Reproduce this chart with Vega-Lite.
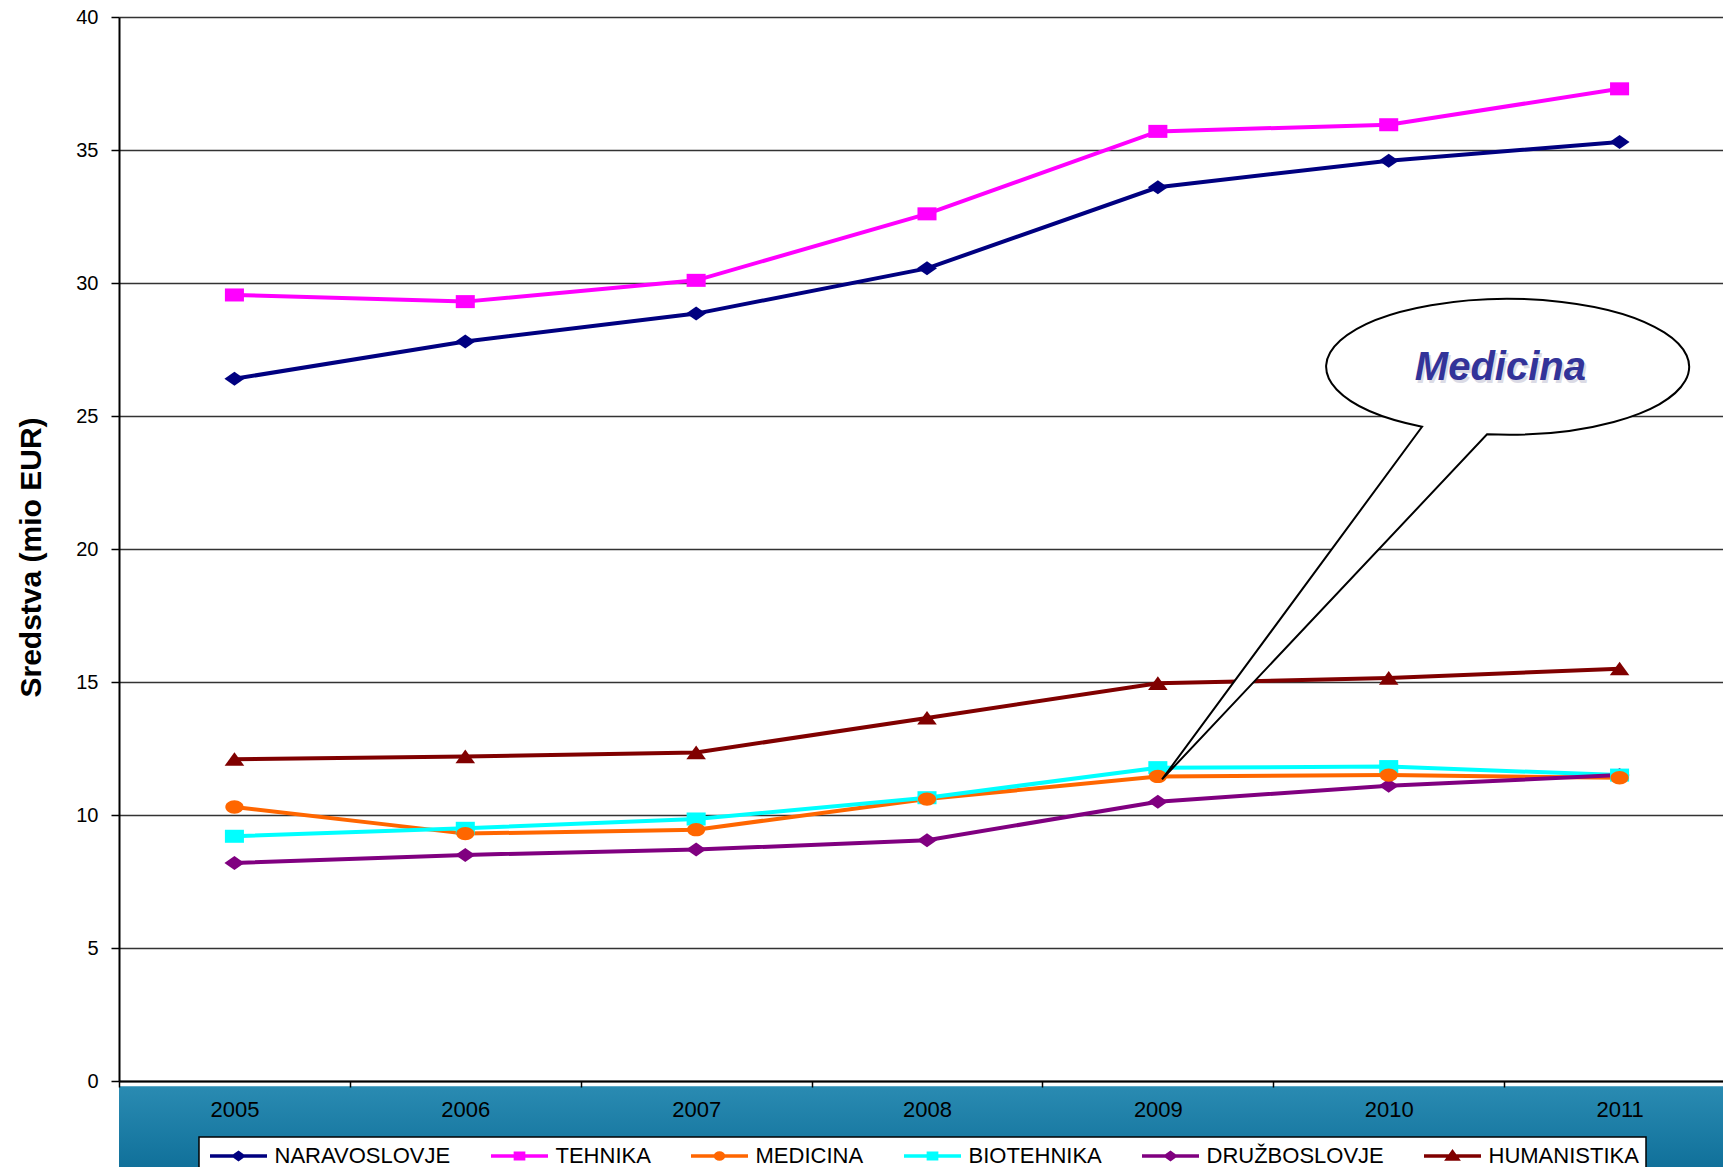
{
  "$schema": "https://vega.github.io/schema/vega-lite/v6.json",
  "width": 1616,
  "height": 1064,
  "autosize": {"type": "none"},
  "padding": {"left": 119, "top": 17, "right": 0, "bottom": 86},
  "background": "white",
  "config": {"view": {"stroke": null}, "font": "Liberation Sans"},
  "data": {
    "values": [
      {"year": "2005", "series": "NARAVOSLOVJE", "value": 26.4},
      {"year": "2006", "series": "NARAVOSLOVJE", "value": 27.8},
      {"year": "2007", "series": "NARAVOSLOVJE", "value": 28.85},
      {"year": "2008", "series": "NARAVOSLOVJE", "value": 30.55},
      {"year": "2009", "series": "NARAVOSLOVJE", "value": 33.6},
      {"year": "2010", "series": "NARAVOSLOVJE", "value": 34.6},
      {"year": "2011", "series": "NARAVOSLOVJE", "value": 35.3},
      {"year": "2005", "series": "TEHNIKA", "value": 29.55},
      {"year": "2006", "series": "TEHNIKA", "value": 29.3},
      {"year": "2007", "series": "TEHNIKA", "value": 30.1},
      {"year": "2008", "series": "TEHNIKA", "value": 32.6},
      {"year": "2009", "series": "TEHNIKA", "value": 35.7},
      {"year": "2010", "series": "TEHNIKA", "value": 35.95},
      {"year": "2011", "series": "TEHNIKA", "value": 37.3},
      {"year": "2005", "series": "MEDICINA", "value": 10.3},
      {"year": "2006", "series": "MEDICINA", "value": 9.3},
      {"year": "2007", "series": "MEDICINA", "value": 9.45},
      {"year": "2008", "series": "MEDICINA", "value": 10.6},
      {"year": "2009", "series": "MEDICINA", "value": 11.45},
      {"year": "2010", "series": "MEDICINA", "value": 11.5},
      {"year": "2011", "series": "MEDICINA", "value": 11.4},
      {"year": "2005", "series": "BIOTEHNIKA", "value": 9.2},
      {"year": "2006", "series": "BIOTEHNIKA", "value": 9.5},
      {"year": "2007", "series": "BIOTEHNIKA", "value": 9.85},
      {"year": "2008", "series": "BIOTEHNIKA", "value": 10.65},
      {"year": "2009", "series": "BIOTEHNIKA", "value": 11.78},
      {"year": "2010", "series": "BIOTEHNIKA", "value": 11.82},
      {"year": "2011", "series": "BIOTEHNIKA", "value": 11.5},
      {"year": "2005", "series": "DRUŽBOSLOVJE", "value": 8.2},
      {"year": "2006", "series": "DRUŽBOSLOVJE", "value": 8.5},
      {"year": "2007", "series": "DRUŽBOSLOVJE", "value": 8.7},
      {"year": "2008", "series": "DRUŽBOSLOVJE", "value": 9.05},
      {"year": "2009", "series": "DRUŽBOSLOVJE", "value": 10.5},
      {"year": "2010", "series": "DRUŽBOSLOVJE", "value": 11.1},
      {"year": "2011", "series": "DRUŽBOSLOVJE", "value": 11.5},
      {"year": "2005", "series": "HUMANISTIKA", "value": 12.1},
      {"year": "2006", "series": "HUMANISTIKA", "value": 12.2},
      {"year": "2007", "series": "HUMANISTIKA", "value": 12.35},
      {"year": "2008", "series": "HUMANISTIKA", "value": 13.65},
      {"year": "2009", "series": "HUMANISTIKA", "value": 14.95},
      {"year": "2010", "series": "HUMANISTIKA", "value": 15.15},
      {"year": "2011", "series": "HUMANISTIKA", "value": 15.5}
    ]
  },
  "layer": [
    {
      "data": {"values": [{"band": "footer"}]},
      "mark": {
        "type": "rect",
        "color": {
          "gradient": "linear", "x1": 0, "y1": 0, "x2": 0, "y2": 1,
          "stops": [{"offset": 0, "color": "#2a8bb2"}, {"offset": 1, "color": "#0f6f99"}]
        }
      },
      "encoding": {
        "y": {"datum": -0.2, "type": "quantitative"},
        "y2": {"datum": -3.4}
      }
    },
    {
      "mark": {"type": "line", "strokeWidth": 4},
      "encoding": {
        "x": {
          "field": "year", "type": "ordinal", "bandPosition": 0.5,
          "scale": {"type": "band", "paddingInner": 0, "paddingOuter": 0},
          "axis": {
            "title": null, "tickBand": "extent", "labelAngle": 0, "labelFont": "Liberation Sans",
            "labelFontSize": 22, "labelColor": "black", "labelPadding": 12, "tickSize": 6,
            "tickColor": "black", "tickWidth": 1.5, "domainColor": "black", "domainWidth": 2,
            "grid": false, "zindex": 1
          }
        },
        "y": {
          "field": "value", "type": "quantitative",
          "scale": {"domain": [0, 40], "nice": false},
          "axis": {
            "values": [0, 5, 10, 15, 20, 25, 30, 35, 40],
            "grid": true, "gridColor": "#333333", "gridWidth": 1.3,
            "domainColor": "black", "domainWidth": 2, "tickColor": "black", "tickWidth": 1.5, "tickSize": 8,
            "labelFont": "Liberation Sans", "labelFontSize": 20, "labelColor": "black", "labelPadding": 13,
            "title": "Sredstva (mio EUR)", "titleFont": "Liberation Sans", "titleFontSize": 30,
            "titleFontWeight": "bold", "titleColor": "black", "titleAngle": -90,
            "titleX": -88, "titleY": 540, "titleAlign": "center", "titleBaseline": "middle"
          }
        },
        "color": {
          "field": "series", "type": "nominal",
          "scale": {
            "domain": ["NARAVOSLOVJE", "TEHNIKA", "MEDICINA", "BIOTEHNIKA", "DRUŽBOSLOVJE", "HUMANISTIKA"],
            "range": ["#000080", "#FF00FF", "#FF6600", "#00FFFF", "#800080", "#800000"]
          },
          "legend": {
            "orient": "none", "legendX": 80, "legendY": 1120, "direction": "horizontal", "columns": 6,
            "title": null, "fillColor": "white", "strokeColor": "black", "padding": 7, "columnPadding": 33,
            "labelFont": "Liberation Sans", "labelFontSize": 22, "labelColor": "black", "labelLimit": 400,
            "labelOffset": 24, "symbolOffset": 20.5, "symbolSize": 400, "symbolStrokeWidth": 3.5,
            "encode": {
              "symbols": {
                "update": {
                  "shape": {"signal": "(datum.value === 'NARAVOSLOVJE' || datum.value === 'DRUŽBOSLOVJE') ? 'M-2.85,0H2.85M-0.46,0L0,-0.33L0.46,0L0,0.33Z' : datum.value === 'MEDICINA' ? 'M-2.85,0H2.85M0.4,0A0.4,0.3,0,1,1,-0.4,0A0.4,0.3,0,1,1,0.4,0Z' : datum.value === 'HUMANISTIKA' ? 'M-2.85,0H2.85M0,-0.4L0.5,0.3H-0.5Z' : 'M-2.85,0H2.85M-0.41,-0.27H0.41V0.27H-0.41Z'"},
                  "fill": {"scale": "color", "field": "value"},
                  "stroke": {"scale": "color", "field": "value"},
                  "strokeWidth": {"value": 3.5},
                  "opacity": {"value": 1}
                }
              },
              "legend": {"update": {"strokeWidth": {"value": 1.5}}}
            }
          }
        }
      }
    },
    {
      "transform": [{"filter": "datum.series === 'NARAVOSLOVJE' || datum.series === 'DRUŽBOSLOVJE'"}],
      "mark": {"type": "point", "filled": true, "opacity": 1, "size": 196, "strokeWidth": 0, "shape": "M-1.43,0L0,-1L1.43,0L0,1Z"},
      "encoding": {
        "x": {"field": "year", "type": "ordinal", "bandPosition": 0.5},
        "y": {"field": "value", "type": "quantitative"},
        "color": {"field": "series", "type": "nominal"}
      }
    },
    {
      "transform": [{"filter": "datum.series === 'TEHNIKA' || datum.series === 'BIOTEHNIKA'"}],
      "mark": {"type": "point", "filled": true, "opacity": 1, "size": 196, "strokeWidth": 0, "shape": "M-1.36,-0.93H1.36V0.93H-1.36Z"},
      "encoding": {
        "x": {"field": "year", "type": "ordinal", "bandPosition": 0.5},
        "y": {"field": "value", "type": "quantitative"},
        "color": {"field": "series", "type": "nominal"}
      }
    },
    {
      "transform": [{"filter": "datum.series === 'MEDICINA'"}],
      "mark": {"type": "point", "filled": true, "opacity": 1, "size": 196, "strokeWidth": 0, "shape": "M1.3,0A1.3,0.95,0,1,1,-1.3,0A1.3,0.95,0,1,1,1.3,0Z"},
      "encoding": {
        "x": {"field": "year", "type": "ordinal", "bandPosition": 0.5},
        "y": {"field": "value", "type": "quantitative"},
        "color": {"field": "series", "type": "nominal"}
      }
    },
    {
      "transform": [{"filter": "datum.series === 'HUMANISTIKA'"}],
      "mark": {"type": "point", "filled": true, "opacity": 1, "size": 196, "strokeWidth": 0, "shape": "M0,-1L1.4,0.95H-1.4Z"},
      "encoding": {
        "x": {"field": "year", "type": "ordinal", "bandPosition": 0.5},
        "y": {"field": "value", "type": "quantitative"},
        "color": {"field": "series", "type": "nominal"}
      }
    },
    {
      "data": {"values": [{"note": "callout"}]},
      "mark": {
        "type": "point",
        "shape": "M-0.208,0.673A1.815,0.68,0,1,0,-0.858,0.597L-3.458,4.123Z",
        "size": 40000, "filled": true, "fill": "white", "stroke": "black", "strokeWidth": 2, "opacity": 1
      },
      "encoding": {
        "x": {"datum": "2011", "type": "ordinal", "bandPosition": 0.016},
        "y": {"datum": 26.84, "type": "quantitative"}
      }
    },
    {
      "data": {"values": [{"note": "Medicina"}]},
      "mark": {
        "type": "text", "font": "Liberation Sans", "fontSize": 40, "fontWeight": "bold", "fontStyle": "italic",
        "color": "#b8b8cc", "opacity": 0.5, "align": "center", "baseline": "alphabetic", "dx": 2, "dy": 3
      },
      "encoding": {
        "x": {"datum": "2010", "type": "ordinal", "bandPosition": 0.984},
        "y": {"datum": 26.35, "type": "quantitative"},
        "text": {"field": "note"}
      }
    },
    {
      "data": {"values": [{"note": "Medicina"}]},
      "mark": {
        "type": "text", "font": "Liberation Sans", "fontSize": 40, "fontWeight": "bold", "fontStyle": "italic",
        "color": "#333399", "align": "center", "baseline": "alphabetic"
      },
      "encoding": {
        "x": {"datum": "2010", "type": "ordinal", "bandPosition": 0.984},
        "y": {"datum": 26.35, "type": "quantitative"},
        "text": {"field": "note"}
      }
    }
  ]
}
